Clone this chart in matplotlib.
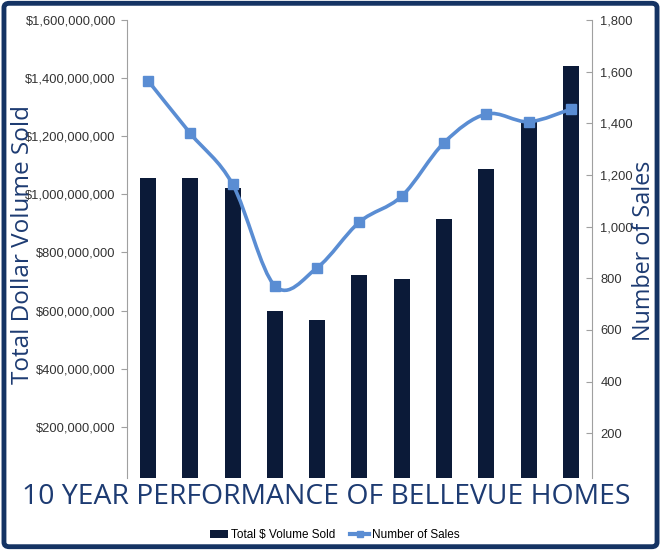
import matplotlib
matplotlib.use("Agg")
import matplotlib.pyplot as plt
import numpy as np
from matplotlib.path import Path
from matplotlib.patches import PathPatch, Patch, FancyBboxPatch
from matplotlib.lines import Line2D
from matplotlib.ticker import FuncFormatter

# yearly figures, oldest first
years = ["Y1", "Y2", "Y3", "Y4", "Y5", "Y6", "Y7", "Y8", "Y9", "Y10", "Y11"]
volume_sold = [1055e6, 1057e6, 1023e6, 600e6, 566e6, 723e6, 708e6, 914e6, 1088e6, 1250e6, 1442e6]
num_sales = [1565, 1361, 1164, 771, 841, 1018, 1118, 1325, 1436, 1406, 1455]

navy = "#0b1a38"
line_blue = "#5a8dd3"
label_blue = "#1d3b72"
tick_grey = "#333333"
spine_grey = "#a0a0a0"

plt.rcParams["font.family"] = ["Liberation Sans", "DejaVu Sans"]

fig = plt.figure(figsize=(6.61, 5.5), dpi=100)
ax = fig.add_axes([0.192, 0.131, 0.7036, 0.8326])
ax2 = ax.twinx()

x = np.arange(len(years))
ax.bar(x, volume_sold, width=0.38, color=navy, zorder=2)
ax.set_xlim(-0.5, len(years) - 0.5)
ax.set_ylim(24e6, 1.6e9)
ax.set_yticks(np.arange(2e8, 1.61e9, 2e8))
ax.yaxis.set_major_formatter(FuncFormatter(lambda v, p: "${:,.0f}".format(v)))
ax.set_xticks([])

ax2.set_ylim(27, 1800)
ax2.set_yticks(np.arange(200, 1801, 200))
ax2.yaxis.set_major_formatter(FuncFormatter(lambda v, p: "{:,.0f}".format(v)))


# smoothed line through the sales points (cubic bezier, catmull-rom style)
def smooth_path(xs, ys):
    pts = np.column_stack([xs, ys]).astype(float)
    n = len(pts)
    verts = [pts[0]]
    codes = [Path.MOVETO]
    for i in range(n - 1):
        p0 = pts[max(i - 1, 0)]
        p1 = pts[i]
        p2 = pts[i + 1]
        p3 = pts[min(i + 2, n - 1)]
        c1 = p1 + (p2 - p0) / 6.0
        c2 = p2 - (p3 - p1) / 6.0
        verts += [c1, c2, p2]
        codes += [Path.CURVE4] * 3
    return Path(verts, codes)


ax2.add_patch(PathPatch(smooth_path(x, num_sales), facecolor="none",
                        edgecolor=line_blue, lw=2.6, zorder=3))
ax2.plot(x, num_sales, linestyle="none", marker="s", markersize=6.5,
         color=line_blue, zorder=4)

for a in (ax, ax2):
    a.spines["top"].set_visible(False)
    a.spines["bottom"].set_visible(False)
    a.spines["left"].set_color(spine_grey)
    a.spines["right"].set_color(spine_grey)
    a.spines["left"].set_linewidth(0.8)
    a.spines["right"].set_linewidth(0.8)
    a.tick_params(axis="y", colors=spine_grey, labelcolor=tick_grey,
                  labelsize=9.3, length=4, width=0.8)
ax.spines["right"].set_visible(False)
ax2.spines["left"].set_visible(False)
ax2.tick_params(axis="y", direction="in", pad=6)
ax.tick_params(axis="y", pad=4)

fig.text(0.035, 0.555, "Total Dollar Volume Sold", rotation=90, ha="center",
         va="center", fontsize=17.5, color=label_blue, family=["Open Sans", "DejaVu Sans"])
fig.text(0.975, 0.543, "Number of Sales", rotation=90, ha="center",
         va="center", fontsize=16.8, color=label_blue, family=["Open Sans", "DejaVu Sans"])

fig.text(0.494, 0.096, "10 YEAR PERFORMANCE OF BELLEVUE HOMES", ha="center",
         va="center", fontsize=20.4, color=label_blue, family=["Open Sans", "DejaVu Sans"])

handles = [Patch(facecolor=navy, edgecolor="none"),
           Line2D([0], [0], color=line_blue, lw=3, marker="s", markersize=5)]
fig.legend(handles, ["Total $ Volume Sold", "Number of Sales"], loc="center",
           bbox_to_anchor=(0.506, 0.027), ncol=2, frameon=False, fontsize=8.5,
           handlelength=1.6, handletextpad=0.2, columnspacing=1.3)

fig.patches.append(FancyBboxPatch((0.006, 0.006), 0.988, 0.988,
                                  boxstyle="round,pad=0,rounding_size=0.008",
                                  transform=fig.transFigure, facecolor="none",
                                  edgecolor="#143363", lw=3.5))

fig.savefig("out.png", dpi=100)
